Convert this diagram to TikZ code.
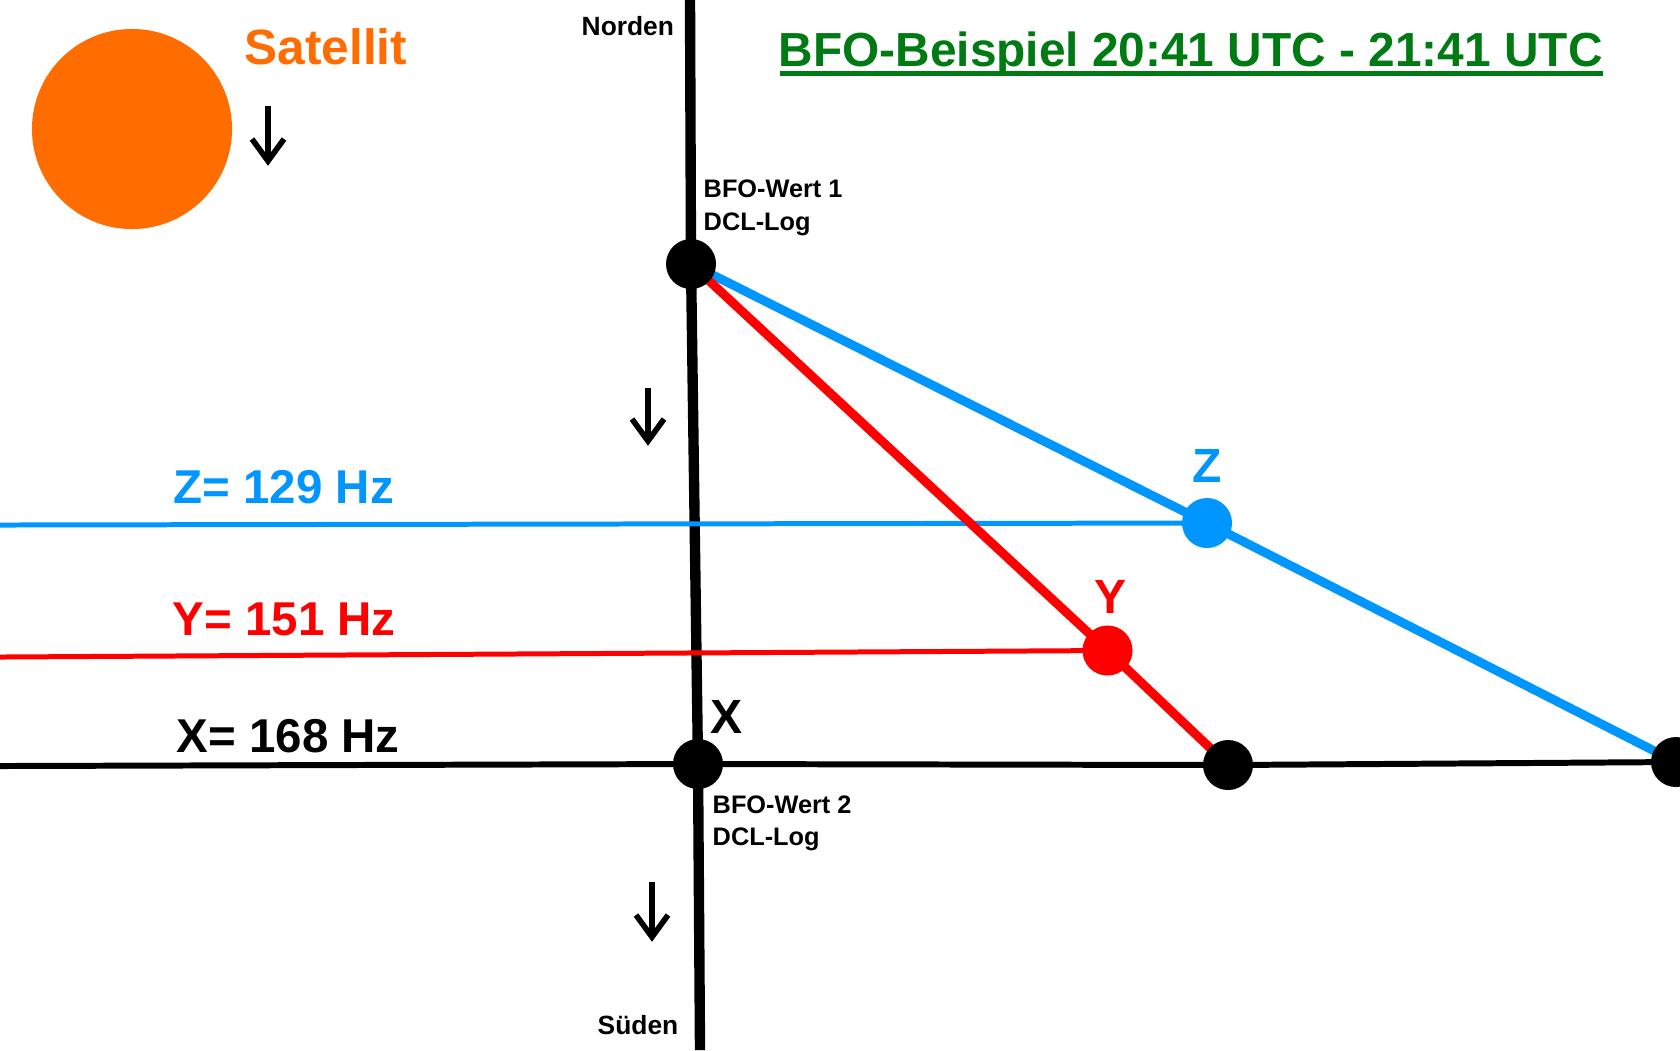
\documentclass[tikz,border=0pt]{standalone}
\usepackage{fontspec}
\setmainfont{Liberation Sans}
\usetikzlibrary{backgrounds}
\definecolor{satorange}{RGB}{255,109,0}
\definecolor{zblue}{RGB}{0,150,255}
\definecolor{yred}{RGB}{255,0,0}
\definecolor{titlegreen}{RGB}{0,122,18}
\newcommand{\fpx}[1]{\fontsize{#1}{#1}\selectfont\bfseries}
\begin{document}
\begin{tikzpicture}[x=0.01cm,y=-0.01cm,
  dot/.style={circle,inner sep=0pt,minimum size=0.5cm,fill=#1},
  dot/.default=black,
  txt/.style={inner sep=0pt,anchor=base west},
  ctxt/.style={inner sep=0pt,anchor=base},
  axisline/.style={line width=2.95pt,black},
  baseline/.style={line width=1.7pt,black},
  thinline/.style={line width=1.42pt,#1},
  thickline/.style={line width=2.55pt,#1},
  glyph/.style={line width=1.6pt,black,miter limit=10}]
\useasboundingbox (0,0) rectangle (1680,1050);
\clip (0,0) rectangle (1680,1050);

% satellite
\node[circle,fill=satorange,minimum size=2cm,inner sep=0pt] (sat) at (132,129) {};
\node[txt,text=satorange,font=\fpx{14.1pt}] (satlbl) at (244,64) {Satellit};

% title
\node[txt,text=titlegreen,font=\fpx{13.6pt}] (title) at (778,66) {BFO-Beispiel 20:41 UTC - 21:41 UTC};
\draw[titlegreen,line width=1.42pt] (780,73.5) -- (1603,73.5);

% points
\coordinate (ntop) at (690,0);
\coordinate (sbot) at (700,1050);
\coordinate (xleft) at (0,766);
\coordinate (zleft) at (0,525);
\coordinate (yleft) at (0,657);
\node[dot] (w1) at (691,264) {};
\node[dot] (w2) at (698,764) {};
\node[dot] (xr) at (1228,765) {};
\node[dot] (xz) at (1676,762) {};
\node[dot=zblue] (z) at (1207,523) {};
\node[dot=yred] (y) at (1107.5,650.5) {};

\begin{scope}[on background layer]
  \fill[white] (0,0) rectangle (1680,1050);
  \draw[axisline] (ntop) -- (w1.center) -- (w2.center) -- (sbot);
  \draw[baseline] (xleft) -- (w2.center) -- (xr.center) -- (xz.center);
  \draw[thinline=zblue] (zleft) -- (z.center);
  \draw[thickline=zblue] (w1.center) -- (z.center) -- (xz.center);
  \draw[thinline=yred] (yleft) -- (y.center);
  \draw[thickline=yred] (w1.center) -- (y.center) -- (xr.center);
\end{scope}

% direction arrows
\draw[glyph] (268,106) -- (268,160);
\draw[glyph] (252,139) -- (268,161) -- (284,139);
\draw[glyph] (648,388) -- (648,440);
\draw[glyph] (632,419) -- (648,441) -- (664,419);
\draw[glyph] (652,882) -- (652,935);
\draw[glyph] (636,915) -- (652,937) -- (668,915);

% labels
\node[txt,font=\fpx{7.5pt}] (norden) at (581,35) {Norden};
\node[txt,font=\fpx{7.5pt}] (sueden) at (597,1034) {Süden};
\node[txt,font=\fpx{7.2pt}] (w1a) at (703,197) {BFO-Wert 1};
\node[txt,font=\fpx{7.2pt}] (w1b) at (703,230) {DCL-Log};
\node[txt,font=\fpx{7.2pt}] (w2a) at (712,813) {BFO-Wert 2};
\node[txt,font=\fpx{7.2pt}] (w2b) at (712,845) {DCL-Log};
\node[txt,font=\fpx{13.66pt}] (xlbl) at (710,733) {X};
\node[ctxt,text=zblue,font=\fpx{13.66pt}] (zlbl) at (1207,482) {Z};
\node[ctxt,text=yred,font=\fpx{13.66pt}] (ylbl) at (1110,613) {Y};
\node[txt,text=zblue,font=\fpx{13.5pt}] (zval) at (173,503) {Z= 129 Hz};
\node[txt,text=yred,font=\fpx{13.5pt}] (yval) at (172,635) {Y= 151 Hz};
\node[txt,font=\fpx{13.5pt}] (xval) at (176,752) {X= 168 Hz};
\end{tikzpicture}
\end{document}
